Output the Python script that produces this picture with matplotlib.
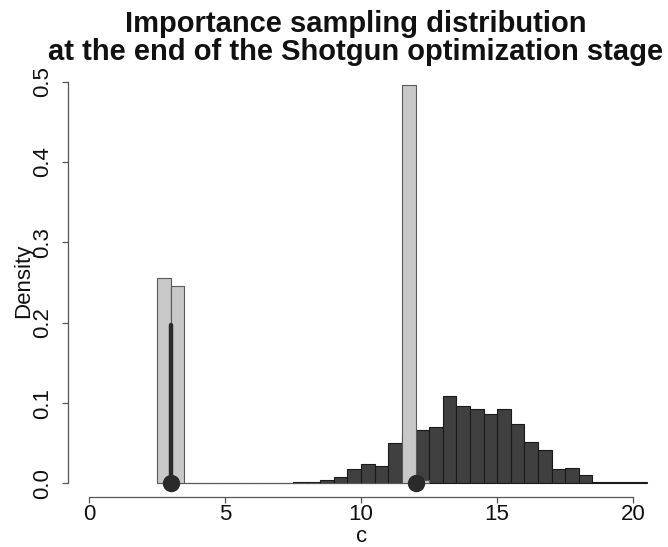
import numpy as np
import matplotlib
matplotlib.use("Agg")
import matplotlib.pyplot as plt

plt.rcParams['font.family'] = ['Liberation Sans', 'DejaVu Sans']

# histogram of all sampled c values (bin width 0.5, left edges from 2.5)
bin_width = 0.5
dark_left = np.arange(2.5, 20.5, bin_width)
dark_density = [0, 0, 0, 0, 0, 0, 0.001, 0, 0, 0,
                0.0015, 0.002, 0.0045, 0.0075, 0.018, 0.0245, 0.022, 0.0506, 0.06, 0.067,
                0.070, 0.1087, 0.096, 0.092, 0.0867, 0.093, 0.0735, 0.0514, 0.041, 0.018,
                0.019, 0.010, 0.0015, 0.0015, 0.0015, 0.0015]

# importance sampling distribution (light bars)
gray_left = np.arange(2.5, 12.5, bin_width)
gray_density = [0.256, 0.246, 0, 0, 0, 0, 0, 0, 0, 0,
                0, 0, 0, 0, 0, 0, 0, 0, 0.496, 0.004]

# optimum points and the vertical segment
points_c = [3, 12]
seg_c = 3
seg_top = 0.197

fig = plt.figure(figsize=(6.68, 5.47), dpi=100)
ax = fig.add_axes([68/668, 50/547, 587/668, 431.4/547])

ax.bar(dark_left, dark_density, width=bin_width, align='edge',
       color='#404040', edgecolor='#1a1a1a', linewidth=0.8, zorder=2)
ax.bar(gray_left, gray_density, width=bin_width, align='edge',
       color='#c8c8c8', edgecolor='#5a5a5a', linewidth=0.8, zorder=3)
ax.plot([seg_c, seg_c], [0, seg_top], color='#2a2a2a', linewidth=3.2,
        solid_capstyle='round', zorder=4)
ax.plot(points_c, [0, 0], 'o', color='#2a2a2a', markersize=11.5,
        clip_on=False, zorder=5)

ax.set_xlim(-0.77, 20.8)
ax.set_ylim(-0.017, 0.52)
for s in ['top', 'right']:
    ax.spines[s].set_visible(False)
ax.spines['bottom'].set_bounds(0, 20)
ax.spines['left'].set_bounds(0, 0.5)
for s in ['bottom', 'left']:
    ax.spines[s].set_color('#555555')
    ax.spines[s].set_linewidth(0.9)

ax.set_xticks([0, 5, 10, 15, 20])
ax.set_yticks([0.0, 0.1, 0.2, 0.3, 0.4, 0.5])
ax.set_yticklabels(['0.0', '0.1', '0.2', '0.3', '0.4', '0.5'],
                   rotation=90, va='center')
ax.tick_params(axis='both', direction='out', length=4, width=0.9,
               color='#555555', labelsize=16, labelcolor='#111111')
ax.tick_params(axis='x', pad=1)
ax.tick_params(axis='y', pad=7)

ax.set_xlabel('c', fontsize=16, color='#111111', labelpad=1)
ax.set_ylabel('Density', fontsize=16, color='#111111', labelpad=-2)

fig.text(356/668, 1 - 10/547,
         'Importance sampling distribution\nat the end of the Shotgun optimization stage',
         ha='center', va='top', fontsize=21, fontweight='bold',
         linespacing=1.0, color='#111111')

fig.savefig('out.png', dpi=100)
